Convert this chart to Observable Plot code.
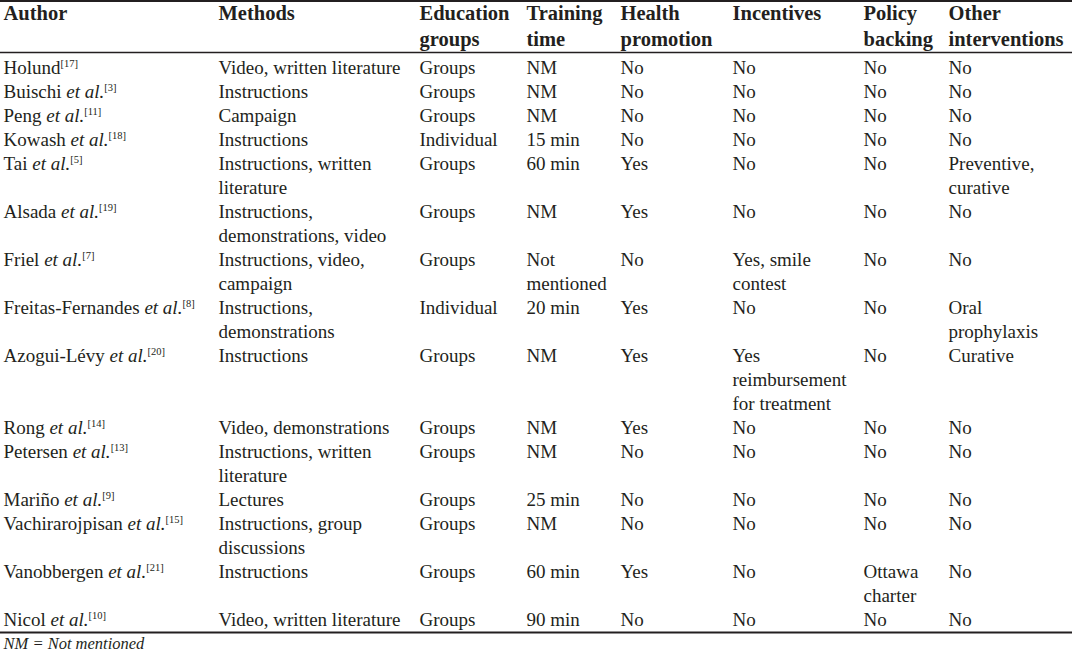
<!DOCTYPE html>
<html><head><meta charset="utf-8">
<script src="https://cdn.jsdelivr.net/npm/d3@7"></script>
<script src="https://cdn.jsdelivr.net/npm/@observablehq/plot@0.6"></script>
<style>body{margin:0;background:#fff}</style>
</head><body><div id="chart"></div>
<script>
// ---- table content ----
const headers = ["Author", "Methods", "Education\ngroups", "Training\ntime", "Health\npromotion", "Incentives", "Policy\nbacking", "Other\ninterventions"];
const authors = ["Holund", "Buischi", "Peng", "Kowash", "Tai", "Alsada", "Friel", "Freitas-Fernandes", "Azogui-Lévy", "Rong", "Petersen", "Mariño", "Vachirarojpisan", "Vanobbergen", "Nicol"];
const etAl = [false, true, true, true, true, true, true, true, true, true, true, true, true, true, true];
const refs = [17, 3, 11, 18, 5, 19, 7, 8, 20, 14, 13, 9, 15, 21, 10];
const methods = ["Video, written literature", "Instructions", "Campaign", "Instructions", "Instructions, written\nliterature", "Instructions,\ndemonstrations, video", "Instructions, video,\ncampaign", "Instructions,\ndemonstrations", "Instructions", "Video, demonstrations", "Instructions, written\nliterature", "Lectures", "Instructions, group\ndiscussions", "Instructions", "Video, written literature"];
const education = ["Groups", "Groups", "Groups", "Individual", "Groups", "Groups", "Groups", "Individual", "Groups", "Groups", "Groups", "Groups", "Groups", "Groups", "Groups"];
const training = ["NM", "NM", "NM", "15 min", "60 min", "NM", "Not\nmentioned", "20 min", "NM", "NM", "NM", "25 min", "NM", "60 min", "90 min"];
const health = ["No", "No", "No", "No", "Yes", "Yes", "No", "Yes", "Yes", "Yes", "No", "No", "No", "Yes", "No"];
const incentives = ["No", "No", "No", "No", "No", "No", "Yes, smile\ncontest", "No", "Yes\nreimbursement\nfor treatment", "No", "No", "No", "No", "No", "No"];
const policy = ["No", "No", "No", "No", "No", "No", "No", "No", "No", "No", "No", "No", "No", "Ottawa\ncharter", "No"];
const other = ["No", "No", "No", "No", "Preventive,\ncurative", "No", "No", "Oral\nprophylaxis", "Curative", "No", "No", "No", "No", "No", "No"];
const footnote = "NM = Not mentioned";

// ---- layout (scale ranges) ----
const colLeft = [3, 218, 419, 526, 620, 732, 863, 948];
const bodySize = 19, headSize = 20.5, lineH = 24, headLineH = 26;
const firstTop = 56;

// ---- build table cells ----
const bodyCols = [methods, education, training, health, incentives, policy, other];
const nLines = s => s.split("\n").length;
const rowLines = authors.map((_, i) => d3.max(bodyCols, col => nLines(col[i])));
const rowStart = [];
let acc = 0;
for (const n of rowLines) { rowStart.push(acc); acc += n; }
const totalLines = acc;

const bodyCells = [];
authors.forEach((_, i) => bodyCols.forEach((col, c) => bodyCells.push({col: c + 1, line: rowStart[i], text: col[i]})));
const authorCells = authors.map((a, i) => ({col: 0, line: rowStart[i], text: a + (etAl[i] ? " et al." : "") + "[" + refs[i] + "]"}));
const headerLine = -2.29;
const headerCells = headers.map((h, c) => ({col: c, line: headerLine, text: h}));
const rules = [-2.31, -0.17, totalLines];

const ink = "#231f20";
const svg = Plot.plot({
  width: 1072,
  height: 655,
  margin: 0,
  style: {fontFamily: "Liberation Serif", background: "#fff", color: ink},
  x: {type: "linear", domain: d3.range(colLeft.length), range: colLeft, axis: null},
  y: {type: "linear", domain: [0, totalLines], range: [firstTop, firstTop + lineH * totalLines], axis: null},
  marks: [
    Plot.ruleY(rules, {y: d => d, stroke: ink, strokeWidth: (d, i) => i === 1 ? 1.5 : 2}),
    Plot.text(headerCells, {x: "col", y: "line", text: "text", textAnchor: "start", lineAnchor: "top",
      fontSize: headSize, fontWeight: "bold", lineHeight: headLineH / headSize, fill: ink, ariaDescription: "header"}),
    Plot.text(authorCells, {x: "col", y: "line", text: "text", textAnchor: "start", lineAnchor: "top",
      fontSize: bodySize, lineHeight: lineH / bodySize, fill: ink, ariaDescription: "author"}),
    Plot.text(bodyCells, {x: "col", y: "line", text: "text", textAnchor: "start", lineAnchor: "top",
      fontSize: bodySize, lineHeight: lineH / bodySize, fill: ink, ariaDescription: "cells"}),
    Plot.text([footnote], {x: () => 0, y: () => totalLines + 0.2, text: d => d, textAnchor: "start", lineAnchor: "top",
      fontSize: 16.5, fontStyle: "italic", fill: ink, ariaDescription: "footnote"})
  ]
});

// rich text for author cells: italic "et al." and superscript reference
const authorTexts = d3.select(svg).selectAll('g[aria-description="author"] text').nodes();
authorTexts.forEach((node, i) => {
  const t = d3.select(node);
  t.text(null);
  t.append("tspan").text(authors[i]);
  if (etAl[i]) {
    t.append("tspan").text(" ");
    t.append("tspan").attr("font-style", "italic").text("et al.");
  }
  t.append("tspan").attr("font-size", 10.5).attr("dy", -7).text("[" + refs[i] + "]");
});

document.getElementById("chart").append(svg);
</script>
</body></html>
